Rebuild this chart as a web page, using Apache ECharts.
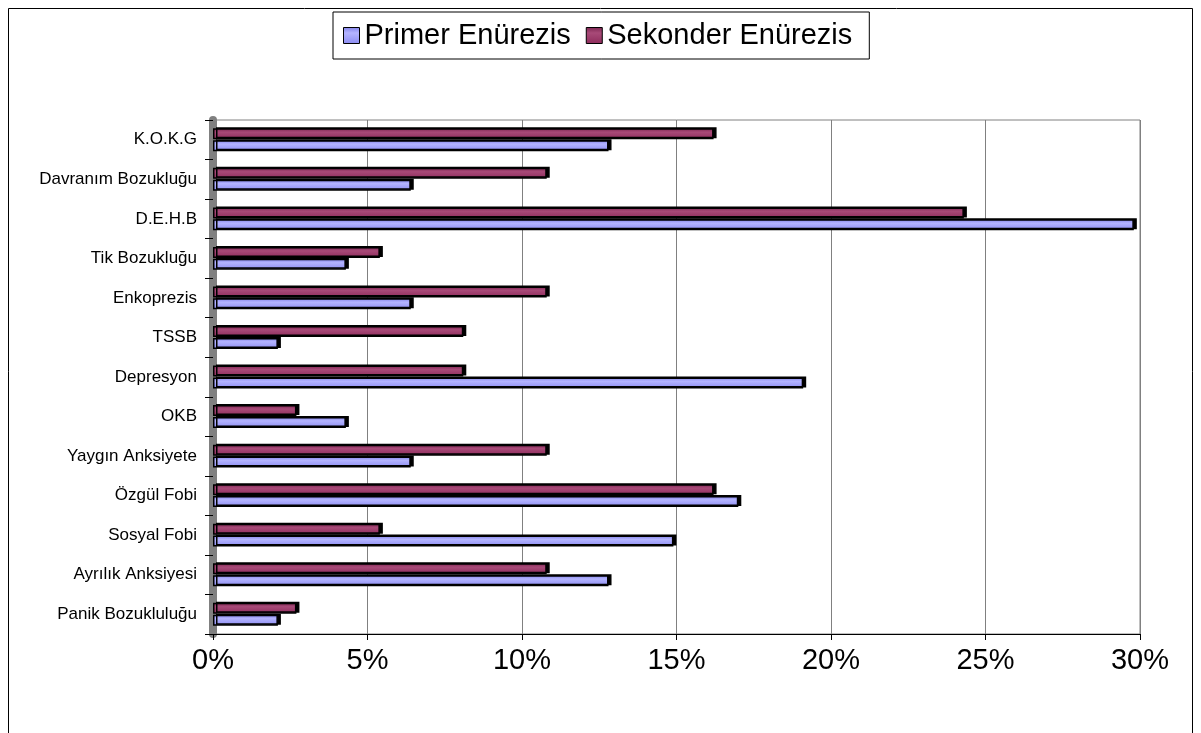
<!DOCTYPE html>
<html>
<head>
<meta charset="utf-8">
<script src="https://cdn.jsdelivr.net/npm/echarts@6/dist/echarts.min.js"></script>
<style>
  html, body { margin: 0; padding: 0; background: #fff; }
  #chart { width: 1201px; height: 733px; }
</style>
</head>
<body>
<div id="chart"></div>
<script>
  // categories, bottom to top as drawn
  var categories = ['Panik Bozukluluğu', 'Ayrılık Anksiyesi', 'Sosyal Fobi', 'Özgül Fobi',
    'Yaygın Anksiyete', 'OKB', 'Depresyon', 'TSSB', 'Enkoprezis', 'Tik Bozukluğu',
    'D.E.H.B', 'Davranım Bozukluğu', 'K.O.K.G'];
  var primer = [2.1, 12.8, 14.9, 17.0, 6.4, 4.3, 19.1, 2.1, 6.4, 4.3, 29.8, 6.4, 12.8];
  var sekonder = [2.7, 10.8, 5.4, 16.2, 10.8, 2.7, 8.1, 8.1, 10.8, 5.4, 24.3, 10.8, 16.2];
  var xTicks = [0, 5, 10, 15, 20, 25, 30];

  var chart = echarts.init(document.getElementById('chart'));

  var option = {
    animation: false,
    textStyle: { fontFamily: 'Liberation Sans, Arial, sans-serif' },
    graphic: [{
      type: 'rect',
      shape: { x: 8.5, y: 8.5, width: 1184, height: 760 },
      style: { fill: 'none', stroke: '#000', lineWidth: 1 },
      silent: true
    }],
    legend: {
      data: ['Primer Enürezis', 'Sekonder Enürezis'],
      top: 12,
      left: 333,
      itemWidth: 16,
      itemHeight: 16,
      itemGap: 15,
      padding: [9, 17, 9, 10],
      borderColor: '#000',
      borderWidth: 1,
      icon: 'rect',
      textStyle: {
        fontSize: 29, color: '#000',
        fontFamily: 'Liberation Sans, Arial, sans-serif'
      },
      itemStyle: { borderColor: '#000', borderWidth: 1 }
    },
    grid: {
      left: 213,
      right: 61,
      top: 120,
      bottom: 99,
      show: true,
      borderColor: '#808080',
      borderWidth: 1
    },
    xAxis: {
      type: 'value',
      min: 0,
      max: 30,
      interval: 5,
      axisLine: { show: true, lineStyle: { color: '#000', width: 1 } },
      axisTick: { show: true, length: 6, lineStyle: { color: '#000' } },
      splitLine: { show: true, lineStyle: { color: '#808080', width: 1 } },
      axisLabel: {
        fontSize: 29,
        color: '#000',
        margin: 12,
        formatter: function (v) { return xTicks.indexOf(v) >= 0 ? v + '%' : ''; }
      }
    },
    yAxis: {
      type: 'category',
      data: categories,
      axisLine: { show: true, lineStyle: { color: '#808080', width: 8 } },
      axisTick: { show: true, length: 8, lineStyle: { color: '#000' } },
      axisLabel: { fontSize: 17, color: '#000', margin: 16 }
    },
    series: [
      {
        name: 'Sekonder Enürezis',
        type: 'bar',
        data: sekonder,
        barWidth: 11,
        barGap: '8%',
        itemStyle: {
          color: new echarts.graphic.LinearGradient(0, 0, 0, 1, [
            { offset: 0, color: '#7c2450' },
            { offset: 0.35, color: '#a84a78' },
            { offset: 1, color: '#8e2c5c' }
          ]),
          borderColor: '#000',
          borderWidth: 1.5,
          shadowColor: '#000',
          shadowOffsetX: 3,
          shadowOffsetY: -1,
          shadowBlur: 0
        }
      },
      {
        name: 'Primer Enürezis',
        type: 'bar',
        data: primer,
        barWidth: 11,
        itemStyle: {
          color: new echarts.graphic.LinearGradient(0, 0, 0, 1, [
            { offset: 0, color: '#8080e8' },
            { offset: 0.35, color: '#b4b4ff' },
            { offset: 1, color: '#8c8cf2' }
          ]),
          borderColor: '#000',
          borderWidth: 1.5,
          shadowColor: '#000',
          shadowOffsetX: 3,
          shadowOffsetY: -1,
          shadowBlur: 0
        }
      }
    ]
  };

  chart.setOption(option);
</script>
</body>
</html>
